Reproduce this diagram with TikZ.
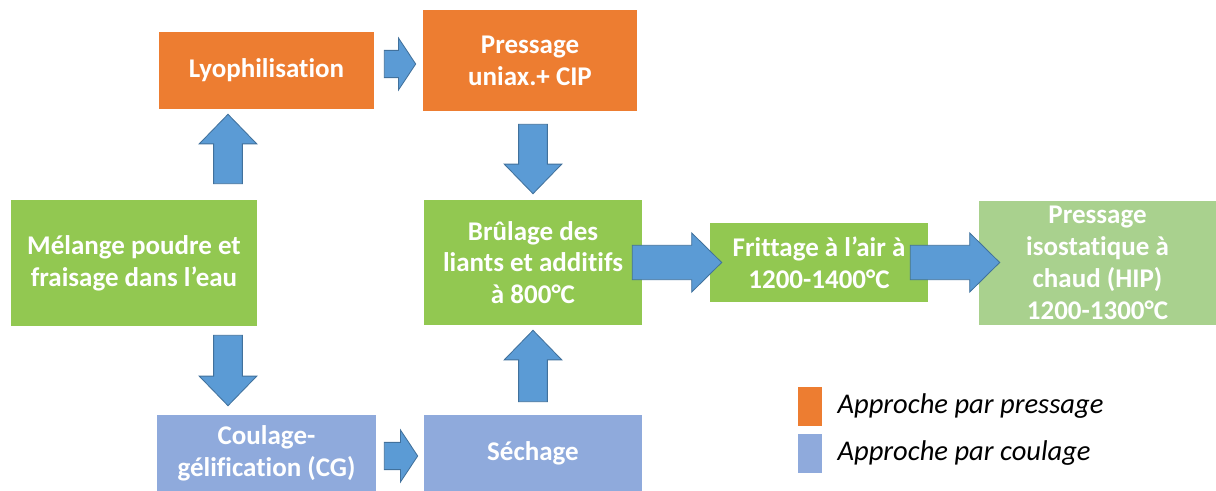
\documentclass[tikz,border=0pt]{standalone}
\usepackage{fontspec}
\setmainfont{Carlito}[Ligatures=NoCommon]
\usepackage{tikz}
\usetikzlibrary{positioning,calc}

\definecolor{pressorange}{HTML}{ED7D31}
\definecolor{stepgreen}{HTML}{92C851}
\definecolor{hipgreen}{HTML}{A9D18E}
\definecolor{castblue}{HTML}{8FAADC}
\definecolor{arrowfill}{HTML}{5B9BD5}
\definecolor{arrowline}{HTML}{41719C}

\begin{document}
\begin{tikzpicture}[x=0.025cm, y=-0.025cm,
  box/.style={inner sep=0pt, align=center, text=white,
    font=\bfseries\fontsize{19.2}{22.6}\selectfont},
  pressbox/.style={box, fill=pressorange},
  greenbox/.style={box, fill=stepgreen},
  castbox/.style={box, fill=castblue},
  legtext/.style={inner sep=0pt, anchor=west, font=\itshape\fontsize{20.3}{24}\selectfont},
  blockarrow/.style n args={3}{fill=arrowfill, draw=arrowline, line width=0.6pt,
    to path={
      ($(\tikztotarget)!#3!(\tikztostart)$) coordinate (bh)
      ($(\tikztostart)!#1!90:(\tikztotarget)$) -- ($(bh)!#1!90:(\tikztotarget)$)
      -- ($(bh)!#2!90:(\tikztotarget)$) -- (\tikztotarget)
      -- ($(bh)!#2!-90:(\tikztotarget)$) -- ($(bh)!#1!-90:(\tikztotarget)$)
      -- ($(\tikztostart)!#1!-90:(\tikztotarget)$) -- cycle}},
  vert/.style={blockarrow={0.36cm}{0.72cm}{0.74cm}},
  small/.style={blockarrow={0.34cm}{0.65cm}{0.43cm}},
  big/.style={blockarrow={0.43cm}{0.74cm}{0.75cm}}]

  \useasboundingbox (0,0) rectangle (1216,491);

  % Define nodes

  \node[pressbox, minimum width=5.375cm, minimum height=1.925cm] (lyo) at (266.5,70.5) {Lyophilisation};
  \node[pressbox, minimum width=5.35cm, minimum height=2.525cm] (pru) at (530,60.5) {Pressage\\uniax.+ CIP};
  \node[greenbox, minimum width=6.15cm, minimum height=3.15cm] (mel) at (134,263) {Mélange poudre et\\fraisage dans l’eau};
  \node[greenbox, minimum width=5.45cm, minimum height=3.125cm] (bru) at (533,262.5) {Brûlage des\\liants et additifs\\à 800°C};
  \node[greenbox, minimum width=5.45cm, minimum height=1.975cm] (fri) at (819,262.5) {Frittage à l’air à\\1200-1400°C};
  \node[box, fill=hipgreen, minimum width=5.925cm, minimum height=3.1cm] (hip) at (1097.5,263) {Pressage\\isostatique à\\chaud (HIP)\\1200-1300°C};
  \node[castbox, minimum width=5.475cm, minimum height=1.9cm] (cou) at (266.5,453) {Coulage-\\gélification (CG)};
  \node[castbox, minimum width=5.45cm, minimum height=1.9cm] (sec) at (533,453) {Séchage};

  % Legend
  \node[fill=pressorange, minimum width=0.6cm, minimum height=0.975cm, inner sep=0pt] (legp) at (810,406.5) {};
  \node[fill=castblue, minimum width=0.6cm, minimum height=0.975cm, inner sep=0pt] (legc) at (810,453.5) {};
  \node[legtext, right=0.375cm of legp] (legptxt) {Approche par pressage};
  \node[legtext, right=0.375cm of legc] (legctxt) {Approche par coulage};

  % Arrow ends
  \coordinate (a1s) at ($(mel.north)+(94,-16)$);
  \coordinate (a1e) at ($(lyo.south)+(-38.5,5)$);
  \coordinate (a2s) at ($(lyo.east)+(10,-6.5)$);
  \coordinate (a2e) at ($(pru.west)+(-7,3.5)$);
  \coordinate (a3s) at ($(pru.south)+(3,13)$);
  \coordinate (a3e) at ($(bru.north)+(0,-6)$);
  \coordinate (a4s) at ($(mel.south)+(94,9)$);
  \coordinate (a4e) at ($(cou.north)+(-38.5,-9)$);
  \coordinate (a5s) at ($(cou.east)+(8,3)$);
  \coordinate (a5e) at ($(sec.west)+(-6,3)$);
  \coordinate (a6s) at ($(sec.north)+(0,-13)$);
  \coordinate (a6e) at ($(bru.south)+(0,5)$);
  \coordinate (a7s) at ($(bru.east)+(-10,0)$);
  \coordinate (a7e) at ($(fri.west)+(12,0)$);
  \coordinate (a8s) at ($(fri.east)+(-18,0)$);
  \coordinate (a8e) at ($(hip.west)+(21,-0.5)$);

  % Draw arrows
  \draw[vert] (a1s) to (a1e);
  \draw[small] (a2s) to (a2e);
  \draw[vert] (a3s) to (a3e);
  \draw[vert] (a4s) to (a4e);
  \draw[small] (a5s) to (a5e);
  \draw[vert] (a6s) to (a6e);
  \draw[big] (a7s) to (a7e);
  \draw[big] (a8s) to (a8e);
\end{tikzpicture}
\end{document}
